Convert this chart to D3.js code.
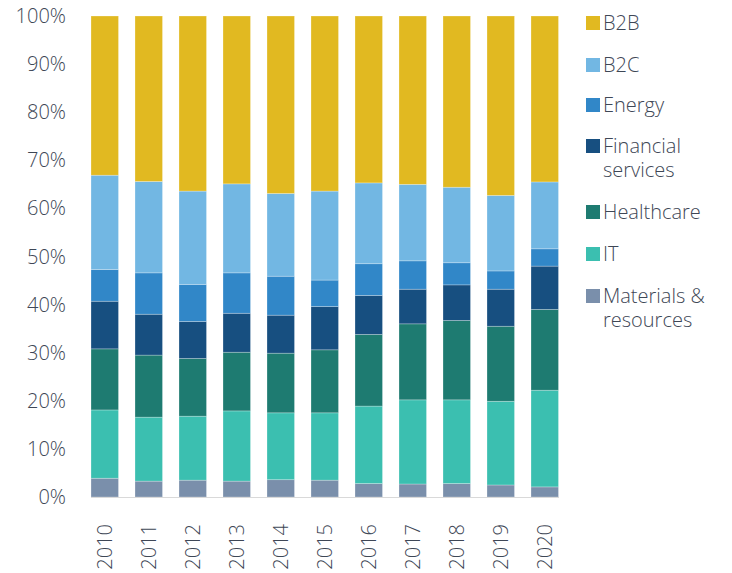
<!DOCTYPE html>
<html>
<head>
<meta charset="utf-8">
<script src="https://cdn.jsdelivr.net/npm/d3@7"></script>
<style>
	body { margin: 0; background: #fff; }
	svg text { font-family: "Open Sans", "Noto Sans", sans-serif; font-weight: 300; fill: #3e4756; }
</style>
</head>
<body>
<svg id="chart" width="732" height="573"></svg>
<script>
(function(){
	'use strict';

	var years = ['2010','2011','2012','2013','2014','2015','2016','2017','2018','2019','2020'];
	var sectors = ['Materials & resources','IT','Healthcare','Financial services','Energy','B2C','B2B'];
	var colors = ['#7a8fab','#3bbfb0','#1e7b71','#174f80','#3187c8','#72b7e3','#e1b921'];

	// shares in % per sector, bottom to top of the stack
	var materials = [3.9, 3.3, 3.5, 3.3, 3.6, 3.5, 2.8, 2.7, 2.8, 2.5, 2.1];
	var it =        [14.2, 13.3, 13.3, 14.6, 13.9, 14.0, 16.1, 17.5, 17.4, 17.4, 20.1];
	var healthcare = [12.7, 12.9, 12.0, 12.2, 12.4, 13.1, 14.9, 15.8, 16.5, 15.6, 16.8];
	var financial = [9.9, 8.5, 7.7, 8.1, 7.9, 9.0, 8.1, 7.2, 7.4, 7.7, 9.0];
	var energy =    [6.6, 8.6, 7.7, 8.4, 8.1, 5.5, 6.6, 5.9, 4.6, 3.8, 3.6];
	var b2c =       [19.6, 19.0, 19.4, 18.5, 17.2, 18.5, 16.8, 15.9, 15.7, 15.7, 13.9];
	var b2b =       [33.1, 34.4, 36.4, 34.9, 36.9, 36.4, 34.7, 35.0, 35.6, 37.3, 34.5];
	var yTicks = [0, 10, 20, 30, 40, 50, 60, 70, 80, 90, 100];

	var series = [materials, it, healthcare, financial, energy, b2c, b2b];
	var rows = years.map(function(y, i){
		var r = { year: y };
		sectors.forEach(function(s, k){ r[s] = series[k][i]; });
		return r;
	});

	var svg = d3.select('#chart');

	var x = d3.scaleBand().domain(years).range([91, 558.5]).paddingInner(0.375).paddingOuter(0);
	var y = d3.scaleLinear().domain([0, 100]).range([497, 16]);
	var color = d3.scaleOrdinal().domain(sectors).range(colors);

	var stacked = d3.stack().keys(sectors).offset(d3.stackOffsetExpand)(rows);

	svg.append('g').selectAll('g')
		.data(stacked)
		.join('g')
		.attr('fill', function(d){ return color(d.key); })
		.selectAll('rect')
		.data(function(d){ return d; })
		.join('rect')
		.attr('x', function(d){ return x(d.data.year); })
		.attr('width', x.bandwidth())
		.attr('y', function(d){ return y(d[1] * 100); })
		.attr('height', function(d){ return y(d[0] * 100) - y(d[1] * 100); })
		.attr('stroke', '#ffffff')
		.attr('stroke-opacity', 0.35)
		.attr('stroke-width', 0.75);

	// x axis line
	svg.append('line')
		.attr('x1', 91).attr('x2', 559)
		.attr('y1', 497.5).attr('y2', 497.5)
		.attr('stroke', '#d9d9d9')
		.attr('stroke-width', 1.2);

	// y tick labels
	svg.append('g').selectAll('text')
		.data(yTicks)
		.join('text')
		.attr('x', 66)
		.attr('y', function(d){ return y(d); })
		.attr('dy', '0.35em')
		.attr('text-anchor', 'end')
		.attr('font-size', '20px')
		.text(function(d){ return d + '%'; });

	// x labels, rotated
	svg.append('g').selectAll('text')
		.data(years)
		.join('text')
		.attr('transform', function(d){
			return 'translate(' + (x(d) + x.bandwidth() / 2) + ',524) rotate(-90)';
		})
		.attr('dy', '0.35em')
		.attr('text-anchor', 'end')
		.attr('font-size', '20px')
		.text(function(d){ return d; });

	// legend, top to bottom; two-line names get one text per line
	var legendItems = [
		{ name: 'B2B', lines: ['B2B'], y: 16 },
		{ name: 'B2C', lines: ['B2C'], y: 58 },
		{ name: 'Energy', lines: ['Energy'], y: 98 },
		{ name: 'Financial services', lines: ['Financial', 'services'], y: 139 },
		{ name: 'Healthcare', lines: ['Healthcare'], y: 205 },
		{ name: 'IT', lines: ['IT'], y: 247 },
		{ name: 'Materials & resources', lines: ['Materials &', 'resources'], y: 289 }
	];

	var legend = svg.append('g').selectAll('g')
		.data(legendItems)
		.join('g')
		.attr('transform', function(d){ return 'translate(586,' + d.y + ')'; });

	legend.append('rect')
		.attr('width', 14).attr('height', 14)
		.attr('fill', function(d){ return color(d.name); });

	legend.selectAll('text')
		.data(function(d){ return d.lines; })
		.join('text')
		.attr('x', 17)
		.attr('y', function(d, i){ return 7 + i * 24; })
		.attr('dy', '0.35em')
		.attr('font-size', '20px')
		.text(function(d){ return d; });

})();
</script>
</body>
</html>
